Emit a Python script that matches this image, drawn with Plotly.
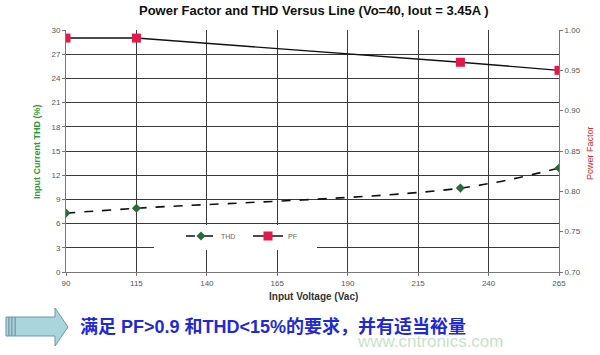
import plotly.graph_objects as go

# ---- data ----
voltage = [90, 115, 230, 265]
thd = [7.3, 7.9, 10.4, 12.9]
pf = [0.99, 0.99, 0.96, 0.95]
x_ticks = [90, 115, 140, 165, 190, 215, 240, 265]
thd_ticks = [0, 3, 6, 9, 12, 15, 18, 21, 24, 27, 30]
pf_ticks = [0.70, 0.75, 0.80, 0.85, 0.90, 0.95, 1.00]

W, H = 600, 355
L, R, T, B = 66, 559, 30, 272


def px(x):
    return (x - L) / (R - L)


def py(y):
    return (B - y) / (B - T)


fig = go.Figure()
fig.add_trace(go.Scatter(
    x=voltage, y=thd, name="THD", mode="lines+markers",
    line=dict(color="#111111", width=1.6, dash="dash", shape="spline"),
    marker=dict(symbol="diamond", size=7, color="#2a6a3a"),
    yaxis="y"))
fig.add_trace(go.Scatter(
    x=voltage, y=pf, name="PF", mode="lines+markers",
    line=dict(color="#111111", width=1.4),
    marker=dict(symbol="square", size=9, color="#e3194b"),
    yaxis="y2"))

tickfont = dict(family="Liberation Sans, Arial", size=8, color="#555555")

fig.update_layout(
    width=W, height=H,
    margin=dict(l=L, r=W - R, t=T, b=H - B),
    paper_bgcolor="white", plot_bgcolor="white",
    xaxis=dict(range=[90, 265], tickvals=x_ticks, showgrid=True,
               gridcolor="#3a3a3a", gridwidth=1, zeroline=False,
               showline=True, linecolor="#777777", linewidth=1,
               ticks="outside", ticklen=3, tickcolor="#777777",
               tickfont=tickfont),
    yaxis=dict(range=[0, 30], tickvals=thd_ticks, showgrid=True,
               gridcolor="#3a3a3a", gridwidth=1, zeroline=False,
               showline=True, linecolor="#777777", linewidth=1,
               ticks="outside", ticklen=3, tickcolor="#777777",
               tickfont=tickfont),
    yaxis2=dict(range=[0.70, 1.00], tickvals=pf_ticks, tickformat=".2f",
                overlaying="y", side="right", showgrid=False,
                zeroline=False, showline=True, linecolor="#777777",
                linewidth=1, ticks="outside", ticklen=3,
                tickcolor="#777777", tickfont=tickfont),
    showlegend=True,
    legend=dict(orientation="h", x=px(181), y=py(236), xanchor="left",
                yanchor="middle", bgcolor="rgba(0,0,0,0)",
                font=dict(family="Liberation Sans, Arial", size=7,
                          color="#666666"),
                entrywidth=22, entrywidthmode="pixels",
                itemwidth=30, tracegroupgap=0),
)

shapes = []
# white legend box covering gridlines
shapes.append(dict(type="rect", xref="paper", yref="paper",
                   x0=px(154), x1=px(317), y0=py(250), y1=py(225),
                   fillcolor="white", line=dict(width=0), layer="above"))
# arrow
fill = "#a9d5dc"
edge = "#6f96a6"


def P(x, y):
    return f"{px(x):.5f},{py(y):.5f}"


path = ("M" + P(15, 317) + " L" + P(55, 317) + " L" + P(55, 308) +
        " L" + P(68, 327) + " L" + P(55, 346) + " L" + P(55, 336) +
        " L" + P(15, 336) + " Z")
shapes.append(dict(type="path", xref="paper", yref="paper", path=path,
                   fillcolor=fill, line=dict(color=edge, width=1)))
for x0, x1 in [(6, 9), (9, 12), (12, 15)]:
    shapes.append(dict(type="rect", xref="paper", yref="paper",
                       x0=px(x0), x1=px(x1), y0=py(336), y1=py(317),
                       fillcolor=fill, line=dict(color=edge, width=1)))
fig.update_layout(shapes=shapes)


def ann(text, x, y, font, xanchor="center", textangle=0):
    return dict(text=text, x=px(x), y=py(y), xref="paper", yref="paper",
                xanchor=xanchor, yanchor="middle", showarrow=False,
                textangle=textangle, font=font)


annotations = [
    ann("<b>Power Factor and THD Versus Line (Vo=40, Iout = 3.45A )</b>", 314, 11,
        dict(family="Liberation Sans, Arial", size=13, color="#111111")),
    ann("<b>Input Voltage (Vac)</b>", 313, 296,
        dict(family="Liberation Sans Narrow, Liberation Sans", size=10,
             color="#333333")),
    ann("<b>Input Current THD (%)</b>", 37, 152,
        dict(family="Liberation Sans Narrow, Liberation Sans", size=9,
             color="#2e9a3a"), textangle=-90),
    ann("Power Factor", 590, 153,
        dict(family="Liberation Sans, Arial", size=9, color="#d42a2a"),
        textangle=-90),
    ann("www.cntronics.com", 430, 341,
        dict(family="Liberation Sans, Arial", size=17,
             color="rgba(150,200,150,0.55)")),
    ann("<b>满足 PF>0.9 和THD<15%的要求，并有适当裕量</b>", 78, 326,
        dict(family="Liberation Sans, Noto Sans CJK SC", size=18,
             color="#1f2ad4"), xanchor="left"),
]
fig.update_layout(annotations=annotations)

fig.write_html("out.html")
